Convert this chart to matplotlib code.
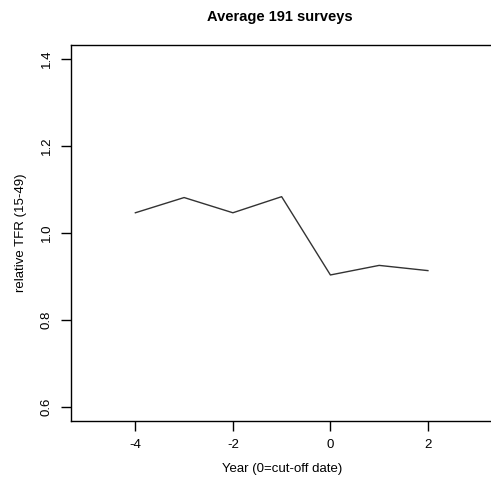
import matplotlib
matplotlib.use("Agg")
import matplotlib.pyplot as plt

years = [-4, -3, -2, -1, 0, 1, 2]
rel_tfr = [1.046, 1.081, 1.046, 1.083, 0.903, 0.925, 0.913]
x_ticks = [-4, -2, 0, 2]
y_ticks = [0.6, 0.8, 1.0, 1.2, 1.4]

plt.rcParams['font.family'] = ['Liberation Sans', 'DejaVu Sans']

fig = plt.figure(figsize=(4.91, 4.88), dpi=100)
ax = fig.add_axes([0.1446, 0.138, 0.858, 0.770])

ax.plot(years, rel_tfr, color="#333333", linewidth=1.0)

# R-style 4% padding around xlim (-5, 3) and ylim (0.6, 1.4)
ax.set_xlim(-5.32, 3.32)
ax.set_ylim(0.568, 1.432)
ax.set_xticks(x_ticks)
ax.set_xticklabels([str(t) for t in x_ticks])
ax.set_yticks(y_ticks)
ax.set_yticklabels([f"{t:.1f}" for t in y_ticks], rotation=90, va="center")
ax.tick_params(direction="out", length=7, width=1, labelsize=9.5, pad=6)
for s in ax.spines.values():
    s.set_linewidth(1.0)

ax.set_xlabel("Year (0=cut-off date)", fontsize=9.5, labelpad=9)
ax.set_ylabel("relative TFR (15-49)", fontsize=9.5, labelpad=10)
fig.suptitle("Average 191 surveys", fontsize=10.5, fontweight="bold", y=0.98, x=0.57)

fig.savefig("out.png", dpi=100)
